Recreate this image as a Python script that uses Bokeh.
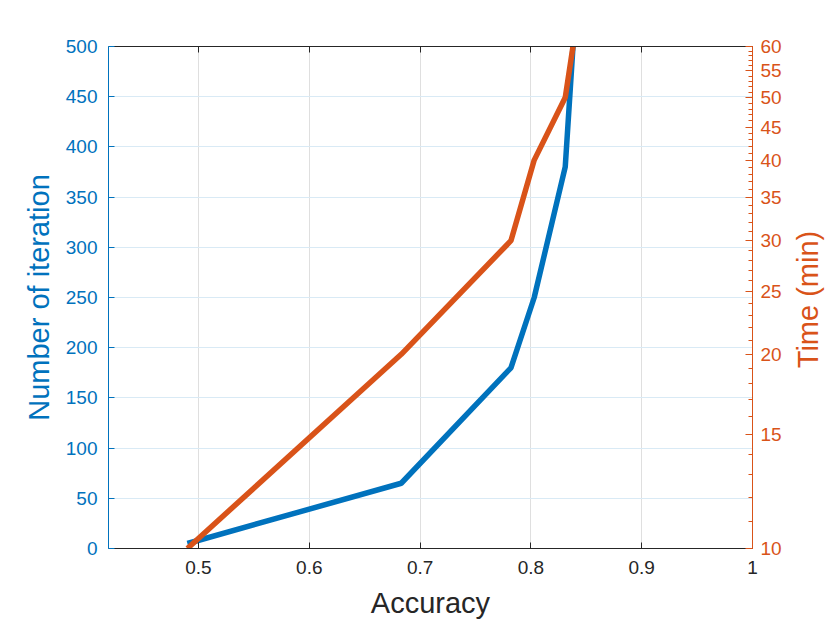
import math
from bokeh.plotting import figure
from bokeh.layouts import row
from bokeh.models import (Range1d, LinearAxis, LogAxis, LogScale, FixedTicker,
                          BasicTickFormatter)
from bokeh.core.properties import value
from bokeh.embed import file_html
from bokeh.resources import INLINE

# ---- data ----
accuracy = [0.49, 0.683, 0.782, 0.803, 0.831, 0.838]
iterations = [5, 65, 180, 250, 380, 500]
time_min = [10, 20, 30, 40, 50, 60]

x_ticks = [0.5, 0.6, 0.7, 0.8, 0.9, 1.0]
iter_ticks = [0, 50, 100, 150, 200, 250, 300, 350, 400, 450, 500]
time_ticks = [10, 15, 20, 25, 30, 35, 40, 45, 50, 55, 60]
time_minor = list(range(10, 61))

BLUE = "#0072BD"
ORANGE = "#D95319"
DARK = "#262626"
FONT = "Liberation Sans"

FW, FH = 644, 502
BL, BR, BT, BB = 108, 40, 46, 74
p = figure(frame_width=FW, frame_height=FH,
           min_border_left=BL, min_border_right=BR,
           min_border_top=BT, min_border_bottom=BB,
           x_range=Range1d(0.4188, 1.0), y_range=Range1d(0, 500),
           output_backend="svg", toolbar_location=None,
           x_axis_location=None, y_axis_location=None)
p.outline_line_color = None
p.background_fill_color = "white"
p.border_fill_color = "white"

p.extra_y_ranges = {"time": Range1d(10, 60)}
p.extra_y_scales = {"time": LogScale()}

TICK_FS = "19px"
LABEL_FS = "29px"

# bottom axis
xa = LinearAxis(ticker=FixedTicker(ticks=x_ticks), axis_label="Accuracy")
xa.formatter = BasicTickFormatter()
xa.major_label_overrides = {1.0: "1"}
# top axis (box edge, no labels)
xt = LinearAxis(ticker=FixedTicker(ticks=x_ticks))
xt.major_label_overrides = {t: "" for t in x_ticks}
xt.major_label_standoff = 0
for ax in (xa, xt):
    ax.axis_line_color = DARK
    ax.major_tick_line_color = DARK
    ax.major_tick_in = 6
    ax.major_tick_out = 0
    ax.minor_tick_line_color = None
xa.major_label_text_color = DARK
xa.major_label_text_font = FONT
xa.major_label_text_font_size = TICK_FS
xa.major_label_standoff = 12
xa.axis_label_text_font = FONT
xa.axis_label_text_font_size = LABEL_FS
xa.axis_label_text_font_style = "normal"
xa.axis_label_text_color = DARK
xa.axis_label_standoff = 10
p.add_layout(xa, "below")
p.add_layout(xt, "above")

# left axis
ya = LinearAxis(ticker=FixedTicker(ticks=iter_ticks), axis_label="Number of iteration")
ya.axis_line_color = BLUE
ya.major_tick_line_color = BLUE
ya.major_tick_in = 6
ya.major_tick_out = 0
ya.minor_tick_line_color = None
ya.major_label_text_color = BLUE
ya.major_label_text_font = FONT
ya.major_label_text_font_size = TICK_FS
ya.major_label_standoff = 11
ya.axis_label_text_font = FONT
ya.axis_label_text_font_size = LABEL_FS
ya.axis_label_text_font_style = "normal"
ya.axis_label_text_color = BLUE
ya.axis_label_standoff = 8
p.add_layout(ya, "left")

# right axis (log)
yr = LogAxis(y_range_name="time",
             ticker=FixedTicker(ticks=time_ticks, minor_ticks=time_minor))
yr.formatter = BasicTickFormatter()
yr.axis_line_color = ORANGE
yr.major_tick_line_color = ORANGE
yr.minor_tick_line_color = ORANGE
yr.major_tick_in = 7
yr.major_tick_out = 0
yr.minor_tick_in = 4
yr.minor_tick_out = 0
yr.major_label_text_color = ORANGE
yr.major_label_text_font = FONT
yr.major_label_text_font_size = TICK_FS
yr.major_label_standoff = 8
p.add_layout(yr, "right")

# grids
p.xgrid.ticker = FixedTicker(ticks=x_ticks)
p.xgrid.grid_line_color = "#DFDFDF"
p.ygrid.ticker = FixedTicker(ticks=iter_ticks)
p.ygrid.grid_line_color = "#D9EAF5"
for g in (p.xgrid, p.ygrid):
    g.grid_line_width = 1

p.line(accuracy, iterations, line_color=BLUE, line_width=5.5)
p.line(accuracy, time_min, line_color=ORANGE, line_width=5.5, y_range_name="time")

# narrow side panel carrying the right-axis title (reads bottom-to-top)
TOTAL_H = BT + FH + BB
SW = 36
s = figure(frame_width=SW, frame_height=TOTAL_H,
           min_border=0, min_border_left=0, min_border_right=0,
           min_border_top=0, min_border_bottom=0,
           x_range=Range1d(-SW / 2 + 1, SW / 2 + 1),
           y_range=Range1d(-(BB + FH / 2), BT + FH / 2),
           output_backend="svg", toolbar_location=None,
           x_axis_location=None, y_axis_location=None)
s.outline_line_color = None
s.grid.visible = False
s.text(x=[0], y=[0], text=["Time (min)"], angle=math.pi / 2,
       x_offset=-2, y_offset=-44,
       text_align="center", text_baseline="middle",
       text_font=value(FONT), text_font_size=LABEL_FS, text_color=ORANGE)

layout = row(p, s, spacing=0)
open("out.html", "w").write(file_html(layout, INLINE))
